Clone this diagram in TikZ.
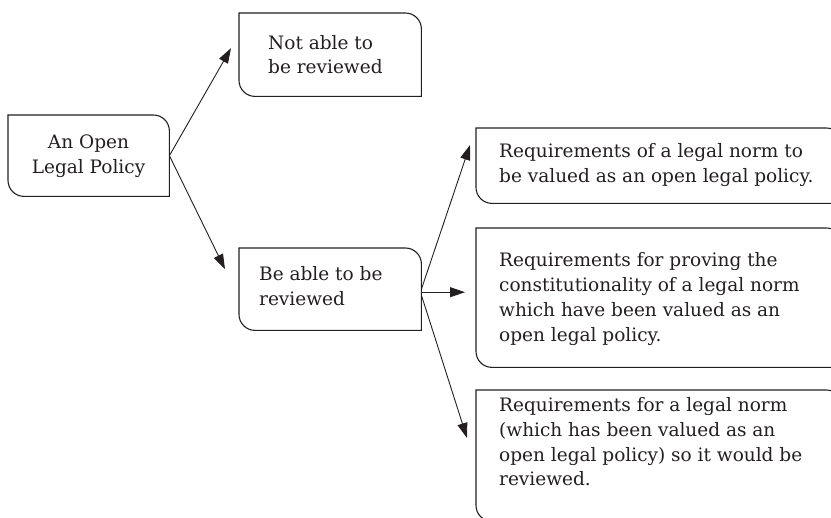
\documentclass[tikz,border=0pt]{standalone}
\usepackage{fontspec}
\setmainfont{DejaVu Serif}
\usetikzlibrary{arrows.meta}
\definecolor{ink}{HTML}{231F20}
\begin{document}
\begin{tikzpicture}[x=1pt,y=1pt,
  shapebox/.style={draw=none,inner sep=0pt,anchor=north west},
  boxline/.style={draw=ink,line width=1.1pt},
  txt/.style={inner sep=0pt,text=ink,font=\fontsize{18.5}{24.7}\selectfont},
  arr/.style={draw=ink,line width=0.9pt,-{Triangle[length=15pt,width=10pt]}}]
\useasboundingbox (0,0) rectangle (831,-518);
\clip (0,0) rectangle (831,-518);
% box frames (empty shape nodes)
\node[shapebox,minimum width=161pt,minimum height=81pt] (a) at (8,-115) {};
\node[shapebox,minimum width=182pt,minimum height=83pt] (b) at (239,-13) {};
\node[shapebox,minimum width=182pt,minimum height=82pt] (c) at (239,-248) {};
\node[shapebox,minimum width=366pt,minimum height=75pt] (d) at (476,-128) {};
\node[shapebox,minimum width=366pt,minimum height=139pt] (e) at (476,-228) {};
\node[shapebox,minimum width=366pt,minimum height=131pt] (f) at (476,-390) {};
\foreach \n in {a,b,c,d,e,f}{
  \draw[boxline] (\n.north west) -- ([xshift=-16pt]\n.north east)
    arc[start angle=90,end angle=0,radius=16pt] -- (\n.south east)
    -- ([xshift=16pt]\n.south west)
    arc[start angle=270,end angle=180,radius=16pt] -- cycle;
}
% texts
\node[txt,align=center] (at) at (88.5,-156.5) {An Open\\Legal Policy};
\node[txt,align=left,anchor=west] (bt) at (268,-54.5) {Not able to\\be reviewed};
\node[txt,align=left,anchor=west] (ct) at (259,-286) {Be able to be\\reviewed};
\node[txt,align=left,anchor=west] (dt) at (499,-165) {Requirements of a legal norm to\\be valued as an open legal policy.};
\node[txt,align=left,anchor=west] (et) at (499,-299) {Requirements for proving the\\constitutionality of a legal norm\\which have been valued as an\\open legal policy.};
\node[txt,align=left,anchor=west] (ft) at (499,-442) {Requirements for a legal norm\\(which has been valued as an\\open legal policy) so it would be\\reviewed.};
% connectors
\draw[arr] (a.east) -- ([xshift=-8pt,yshift=6.5pt]b.west);
\draw[arr] (a.east) -- ([xshift=-14pt,yshift=20pt]c.west);
\draw[arr] (c.east) -- ([xshift=-6pt,yshift=-17pt]d.north west);
\coordinate (cs) at ([yshift=-3pt]c.east);
\coordinate (etip) at ([xshift=-11pt]e.west);
\draw[arr] (cs) -- (cs -| etip);
\draw[arr] ([yshift=-6pt]c.east) -- ([xshift=-9pt,yshift=-48pt]f.north west);
\end{tikzpicture}
\end{document}
